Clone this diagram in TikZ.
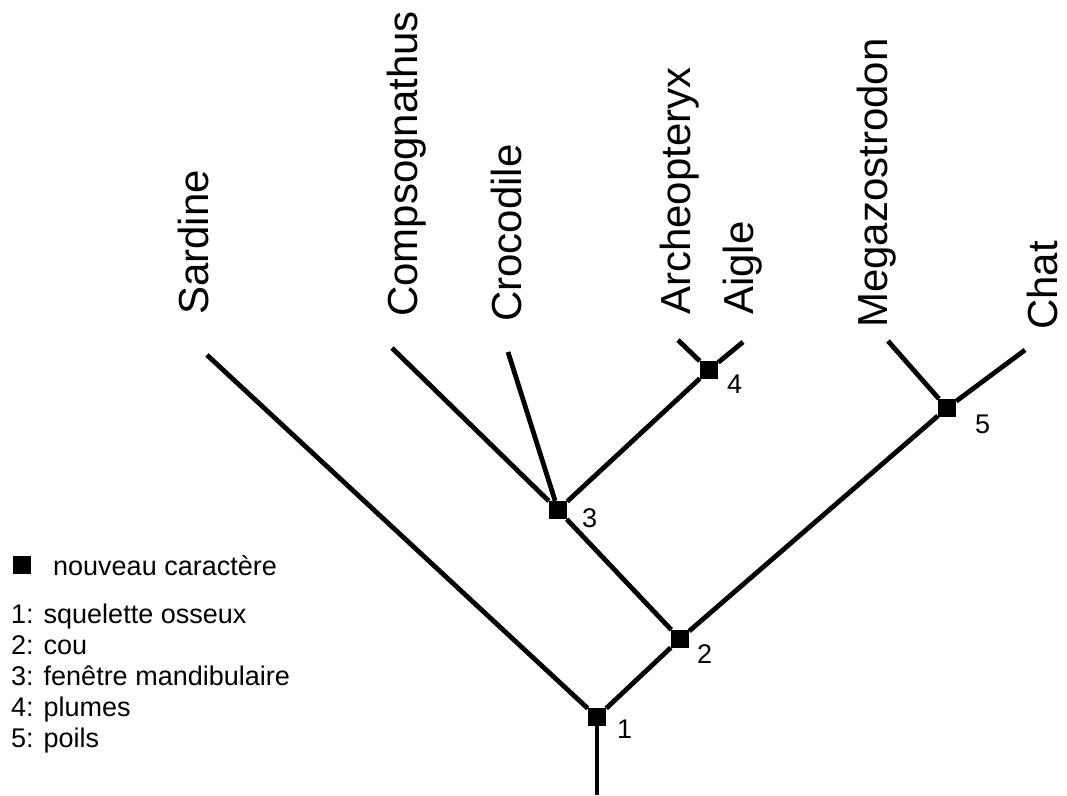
\documentclass[tikz,border=0pt]{standalone}
\usepackage{fontspec}
\setmainfont{Liberation Sans}
\usetikzlibrary{positioning}

\tikzset{
  branch/.style={line width=4.8pt},
  apo/.style={fill=black, minimum size=18pt, inner sep=0pt},
  taxon/.style={rotate=90, anchor=base west, inner sep=0pt, font=\fontsize{42}{50}\selectfont},
  num/.style={anchor=base west, inner sep=0pt, font=\fontsize{27}{31}\selectfont},
}

\begin{document}
\begin{tikzpicture}[x=1pt,y=-1pt]
    \useasboundingbox (0,0) rectangle (1067,795);
    \coordinate (root) at (597,795);
    \coordinate (tSardine) at (207,355);
    \coordinate (tCompso) at (392,348);
    \coordinate (tCroco) at (508,352);
    \coordinate (tArcheo) at (678,340);
    \coordinate (tAigle) at (743,342);
    \coordinate (tMegazo) at (888,341);
    \coordinate (tChat) at (1025,350);
    \node[apo] (n1) at (597,717) {};
    \node[apo] (n2) at (680,639) {};
    \node[apo] (n3) at (558,510) {};
    \node[apo] (n4) at (709,370) {};
    \node[apo] (n5) at (947,408) {};
    \draw[branch] (root) -- (n1);
    \draw[branch] (n1) -- (tSardine);
    \draw[branch] (n1) -- (n2);
    \draw[branch] (n2) -- (n3);
    \draw[branch] (n2) -- (n5);
    \draw[branch] (n3) -- (tCompso);
    \draw[branch] (n3) -- (tCroco);
    \draw[branch] (n3) -- (n4);
    \draw[branch] (n4) -- (tArcheo);
    \draw[branch] (n4) -- (tAigle);
    \draw[branch] (n5) -- (tMegazo);
    \draw[branch] (n5) -- (tChat);
    \node[num] (k1) at (617,738) {1};
    \node[num] (k2) at (697,663) {2};
    \node[num] (k3) at (582,527) {3};
    \node[num] (k4) at (727,393) {4};
    \node[num] (k5) at (975,433) {5};
    \node[taxon] (lSardine) at (208,315) {Sardine};
    \node[taxon] (lCompso) at (417,317) {Compsognathus};
    \node[taxon] (lCroco) at (521,322) {Crocodile};
    \node[taxon] (lArcheo) at (690,315) {Archeopteryx};
    \node[taxon] (lAigle) at (753,315) {Aigle};
    \node[taxon] (lMegazo) at (887,328) {Megazostrodon};
    \node[taxon] (lChat) at (1057,330) {Chat};
    % legende
    \node[apo] (legSq) at (22,565) {};
    \node[num] (legNew) at (53,575) {nouveau caractère};
    \node[num] (leg1) at (11,623) {1: squelette osseux};
    \node[num] (leg2) at (11,654) {2: cou};
    \node[num] (leg3) at (11,685) {3: fenêtre mandibulaire};
    \node[num] (leg4) at (11,716) {4: plumes};
    \node[num] (leg5) at (11,747) {5: poils};
\end{tikzpicture}
\end{document}
